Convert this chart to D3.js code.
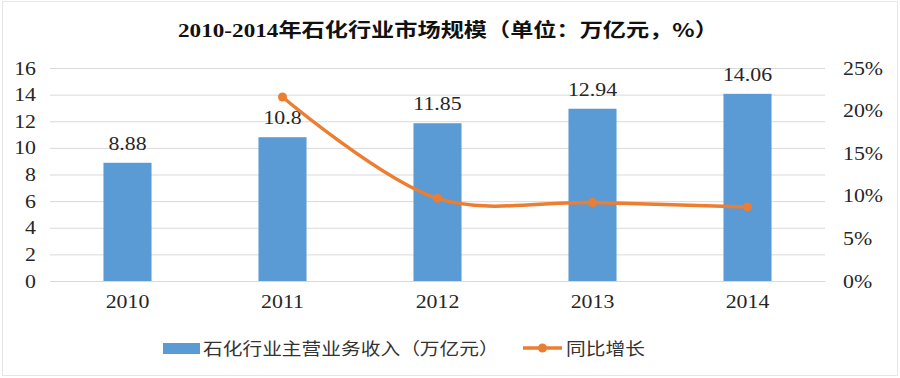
<!DOCTYPE html>
<html><head><meta charset="utf-8">
<script src="https://cdn.jsdelivr.net/npm/d3@7"></script>
<style>body{margin:0;background:#fff}</style>
</head><body>
<svg id="c" width="900" height="378"></svg>
<script>
const years = ["2010","2011","2012","2013","2014"];
const revenue = [8.88, 10.8, 11.85, 12.94, 14.06];
const growth = [null, 21.6, 9.7, 9.2, 8.7];
const leftTicks = [0,2,4,6,8,10,12,14,16];
const rightTicks = [0,5,10,15,20,25];
const titleNum = "2010-2014";
const titleCjk = "年石化行业市场规模（单位：万亿元，%）";
const legendBar = "石化行业主营业务收入（万亿元）";
const legendLine = "同比增长";

const svg = d3.select("#c");
const serif = "'Liberation Serif','Times New Roman',serif";
const cjk = "'Noto Sans CJK SC','Noto Sans',sans-serif";
const blue = "#5B9BD5", orange = "#ED7D31";
const SX = 1.15;

svg.append("rect").attr("x",2.5).attr("y",1.5).attr("width",895).attr("height",374)
  .attr("fill","#fff").attr("stroke","#e6e6e6");

const x = d3.scaleBand().domain(years).range([50,825]).paddingInner(0.69).paddingOuter(0.345);
const yL = d3.scaleLinear().domain([0,16]).range([281,68]);
const yR = d3.scaleLinear().domain([0,25]).range([281,68]);

// gridlines
svg.append("g").selectAll("line").data(leftTicks).join("line")
  .attr("x1",50).attr("x2",825).attr("y1",d=>yL(d)+0.5).attr("y2",d=>yL(d)+0.5)
  .attr("stroke","#d9d9d9").attr("stroke-width",1);

function styleAxis(g){
  g.attr("font-family",serif).attr("font-size",19);
  g.selectAll("text").attr("font-family",serif).attr("font-size",19).attr("fill","#262626")
    .attr("transform",`scale(${SX},1)`);
}
// left axis
const gl = svg.append("g").attr("transform","translate(36,0)")
  .call(d3.axisLeft(yL).tickValues(leftTicks).tickSize(0).tickPadding(0));
gl.select(".domain").remove();
styleAxis(gl);

// right axis
const gr = svg.append("g").attr("transform","translate(843,0)")
  .call(d3.axisRight(yR).tickValues(rightTicks).tickFormat(d=>d+"%").tickSize(0).tickPadding(0));
gr.select(".domain").remove();
styleAxis(gr);

// x axis
const gx = svg.append("g").attr("transform","translate(0,281)")
  .call(d3.axisBottom(x).tickSize(0).tickPadding(14));
gx.select(".domain").attr("stroke","#d9d9d9");
styleAxis(gx);

// bars
svg.append("g").selectAll("rect").data(revenue).join("rect")
  .attr("x",(d,i)=>x(years[i])).attr("width",x.bandwidth())
  .attr("y",d=>yL(d)).attr("height",d=>yL(0)-yL(d)).attr("fill",blue);

svg.append("g").selectAll("text").data(revenue).join("text")
  .attr("transform",(d,i)=>`translate(${x(years[i])+x.bandwidth()/2},${yL(d)-13}) scale(${SX},1)`)
  .attr("text-anchor","middle").attr("font-family",serif).attr("font-size",19).attr("fill","#262626")
  .text(d=>d);

// line
const pts = growth.map((g,i)=>({g,i})).filter(d=>d.g!==null);
const line = d3.line().x(d=>x(years[d.i])+x.bandwidth()/2).y(d=>yR(d.g)).curve(d3.curveCatmullRom.alpha(0.5));
svg.append("path").datum(pts).attr("d",line).attr("fill","none").attr("stroke",orange).attr("stroke-width",3.5);
svg.append("g").selectAll("circle").data(pts).join("circle")
  .attr("cx",d=>x(years[d.i])+x.bandwidth()/2).attr("cy",d=>yR(d.g)).attr("r",4.5).attr("fill",orange);

// title
const t = svg.append("text").attr("transform","translate(178,37) scale(1.22,1)").attr("font-weight","bold").attr("fill","#111");
t.append("tspan").attr("font-family",serif).attr("font-size",19).text(titleNum);
t.append("tspan").attr("font-family",cjk).attr("font-size",19).text(titleCjk);

// legend
svg.append("rect").attr("x",163).attr("y",343).attr("width",37).attr("height",11).attr("fill",blue);
svg.append("text").attr("transform","translate(203,355) scale(1.16,1)").attr("font-family",cjk).attr("font-size",17).attr("fill","#333").text(legendBar);
svg.append("line").attr("x1",523).attr("x2",562).attr("y1",348).attr("y2",348).attr("stroke",orange).attr("stroke-width",3.5);
svg.append("circle").attr("cx",542.5).attr("cy",348).attr("r",4.5).attr("fill",orange);
svg.append("text").attr("transform","translate(566,355) scale(1.16,1)").attr("font-family",cjk).attr("font-size",17).attr("fill","#333").text(legendLine);
</script>
</body></html>
